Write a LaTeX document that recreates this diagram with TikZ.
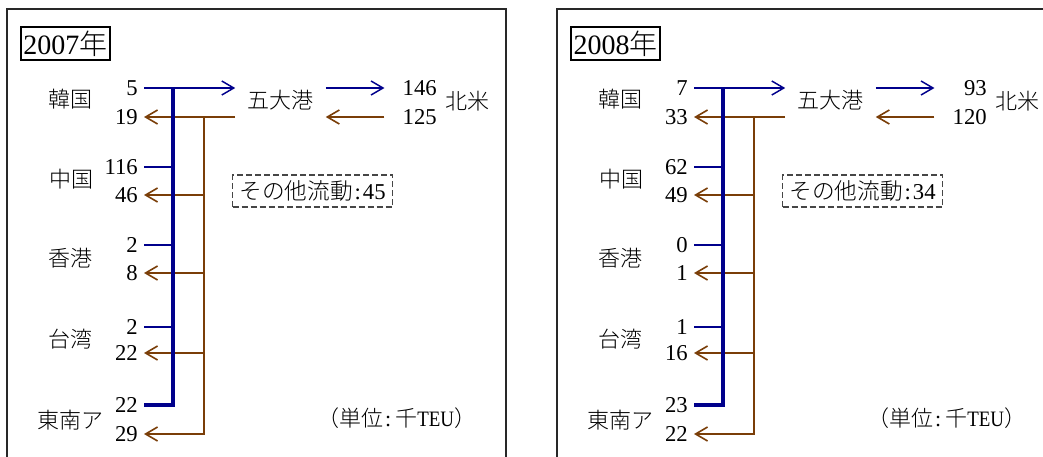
\documentclass[tikz,border=0pt]{standalone}
\usepackage{fontspec}
\setmainfont{Liberation Serif}
\IfFontExistsTF{Noto Sans CJK JP Light}{\newfontfamily\jpf{Noto Sans CJK JP Light}}{\newfontfamily\jpf{Noto Sans CJK JP}}
\usetikzlibrary{arrows.meta}
\definecolor{fblue}{RGB}{0,0,140}
\definecolor{fbrown}{RGB}{122,62,8}
\definecolor{frm}{RGB}{40,40,40}
\definecolor{dsh}{RGB}{70,70,70}
\tikzset{
  x=0.75pt, y=-0.75pt,
  txt/.style={font=\fontsize{17}{20}\selectfont, inner sep=0pt},
  cn/.style={font=\jpf\fontsize{16.5}{19}\selectfont, inner sep=0pt},
  num/.style={txt, anchor=east, inner xsep=4.5pt},
  rnum/.style={txt, anchor=east, text width=36.75pt, align=right, inner xsep=2.25pt},
  ttl/.style={draw=black, line width=1.1pt, font=\fontsize{21}{25}\selectfont, minimum width=66.75pt, minimum height=24.75pt, inner sep=0pt},
  other/.style={draw=dsh, dash pattern=on 4.5pt off 2.25pt, line width=1pt, font=\fontsize{17}{20}\selectfont, minimum width=120pt, minimum height=24pt, inner sep=0pt},
  unit/.style={font=\fontsize{16.5}{19}\selectfont, inner sep=0pt},
  frame/.style={draw=frm, line width=1.1pt},
  arr/.style={-{Straight Barb[length=9pt,width=10.5pt]}},
  blu/.style={draw=fblue, line width=1.1pt},
  blub/.style={draw=fblue, line width=1.7pt},
  bluv/.style={draw=fblue, line width=2.3pt, line join=miter},
  brn/.style={draw=fbrown, line width=1.2pt, line join=miter},
}
\newcommand\panel[4]{%
\begin{scope}[shift={(#2,0)}]
  \draw[frame] (7,9) rectangle (506,490);
  \node[ttl] (#1t) at (65.5,43.5) {#3{\jpf 年}};
  \node[cn] (#1ck) at (70,99) {韓国};
  \node[cn] (#1cc) at (71,179) {中国};
  \node[cn] (#1ch) at (70,258) {香港};
  \node[cn] (#1ct) at (70,339) {台湾};
  \node[cn] (#1cs) at (70,420) {東南ア};
  \node[num] (#1ko) at (144,88) {\vKa};
  \node[num] (#1ki) at (144,117) {\vKb};
  \node[num] (#1co) at (144,167) {\vCa};
  \node[num] (#1ci) at (144,195) {\vCb};
  \node[num] (#1ho) at (144,245) {\vHa};
  \node[num] (#1hi) at (144,273) {\vHb};
  \node[num] (#1to) at (144,327) {\vTa};
  \node[num] (#1ti) at (144,353) {\vTb};
  \node[num] (#1so) at (144,405) {\vSa};
  \node[num] (#1si) at (144,434) {\vSb};
  \node[cn, inner xsep=9pt] (#1g) at (280.5,100) {五大港};
  \node[rnum] (#1no) at (440,88) {\vNa};
  \node[rnum] (#1ni) at (440,117) {\vNb};
  \node[cn] (#1na) at (467,101) {北米};
  \node[other] (#1o) at (312.5,191) {{\jpf その他流動}\hspace{1.5pt}:\hspace{1.5pt}#4};
  \node[unit] (#1u) at (397,418) {{\jpf （単位}\hspace{1pt}:\hspace{3pt}{\jpf 千}\scalebox{0.86}[1]{TEU}{\jpf ）}};
  \coordinate (#1bx) at (173,88);
  \coordinate (#1rx) at (204,117);
  % brown
  \draw[brn, arr] (#1g.west |- #1ki.east) -- (#1ki.east);
  \draw[brn, arr] (#1rx) -- (#1rx |- #1si.east) -- (#1si.east);
  \draw[brn, arr] (#1rx |- #1ci.east) -- (#1ci.east);
  \draw[brn, arr] (#1rx |- #1hi.east) -- (#1hi.east);
  \draw[brn, arr] (#1rx |- #1ti.east) -- (#1ti.east);
  \draw[brn, arr] (#1ni.west) -- (#1g.east |- #1ni.west);
  % blue
  \draw[blu, arr] (#1ko.east) -- (#1g.west |- #1ko.east);
  \draw[blu, arr] (#1g.east |- #1no.west) -- (#1no.west);
  \draw[bluv] (#1bx) -- (#1bx |- #1so.east) -- (#1so.east);
  \draw[blub] (#1co.east) -- (#1co.east -| #1bx);
  \draw[blub] (#1ho.east) -- (#1ho.east -| #1bx);
  \draw[blub] (#1to.east) -- (#1to.east -| #1bx);
\end{scope}}
\begin{document}
\begin{tikzpicture}
  \clip (0,0) rectangle (1043,457);
  \fill[white] (0,0) rectangle (1043,457);
  \def\vKa{5}\def\vKb{19}\def\vCa{116}\def\vCb{46}\def\vHa{2}\def\vHb{8}%
  \def\vTa{2}\def\vTb{22}\def\vSa{22}\def\vSb{29}\def\vNa{146}\def\vNb{125}%
  \panel{a}{0}{2007}{45}
  \def\vKa{7}\def\vKb{33}\def\vCa{62}\def\vCb{49}\def\vHa{0}\def\vHb{1}%
  \def\vTa{1}\def\vTb{16}\def\vSa{23}\def\vSb{22}\def\vNa{93}\def\vNb{120}%
  \panel{b}{550}{2008}{34}
\end{tikzpicture}
\end{document}
